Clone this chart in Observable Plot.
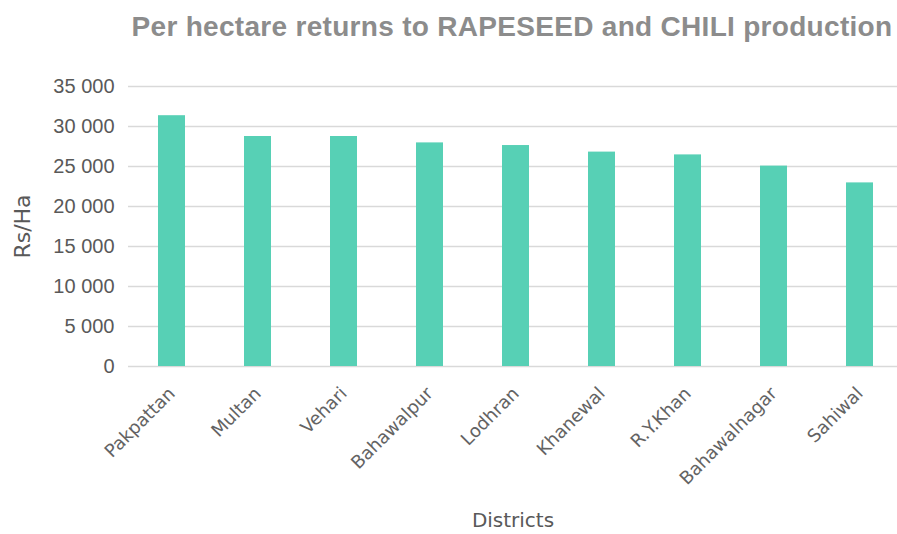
<!DOCTYPE html>
<html>
<head>
<meta charset="utf-8">
<script src="https://cdn.jsdelivr.net/npm/d3@7"></script>
<script src="https://cdn.jsdelivr.net/npm/@observablehq/plot@0.6"></script>
<style>
  body { margin: 0; background: #fff; }
  #title {
    width: 897px; height: 50px; box-sizing: border-box; padding-left: 127px;
    text-align: center; line-height: 54px; white-space: nowrap;
    font-family: "Liberation Sans", Arial, sans-serif; font-weight: bold;
    font-size: 28px; letter-spacing: 0.3px; color: #8c8c8c;
  }
  #chart svg { display: block; }
</style>
</head>
<body>
<div id="title">Per hectare returns to RAPESEED and CHILI production</div>
<div id="chart"></div>
<script>
const districts = ["Pakpattan", "Multan", "Vehari", "Bahawalpur", "Lodhran", "Khanewal", "R.Y.Khan", "Bahawalnagar", "Sahiwal"];
const returns = [31350, 28750, 28750, 27950, 27620, 26800, 26450, 25050, 22950];
const yTicks = [0, 5000, 10000, 15000, 20000, 25000, 30000, 35000];
const yLabel = "Rs/Ha";
const xLabel = "Districts";

const data = districts.map((d, i) => ({district: d, value: returns[i]}));
const fmt = d3.formatLocale({thousands: " ", grouping: [3], decimal: ".", currency: ["", ""]}).format(",");

const gothic = "'DejaVu Sans', sans-serif";
const chart = Plot.plot({
  width: 897,
  height: 484,
  marginTop: 36,
  marginBottom: 168,
  marginLeft: 128,
  marginRight: 0,
  style: {background: "white", overflow: "visible"},
  x: {domain: districts, range: [127.7, 903.5], paddingInner: 0.687, paddingOuter: 0.343},
  y: {domain: [0, 35000]},
  marks: [
    Plot.gridY(yTicks, {stroke: "#d9d9d9", strokeOpacity: 1, strokeWidth: 1.5}),
    Plot.barY(data, {x: "district", y: "value", fill: "#57d0b5"}),
    Plot.axisY(yTicks, {tickSize: 0, tickPadding: 14, tickFormat: fmt, fontSize: 20, fill: "#595959",
      fontFamily: "'Liberation Sans', Arial, sans-serif", label: null}),
    Plot.axisX({tickRotate: -45, tickSize: 0, tickPadding: 24, fontSize: 18, fill: "#636363",
      fontFamily: gothic, label: null}),
    Plot.text([yLabel], {frameAnchor: "left", textAnchor: "middle", lineAnchor: "middle", dx: -106, rotate: -90,
      fontSize: 22, fill: "#595959", fontFamily: gothic}),
    Plot.text([xLabel], {frameAnchor: "bottom", textAnchor: "middle", lineAnchor: "middle", dy: 154,
      fontSize: 20, fill: "#595959", fontFamily: gothic})
  ]
});
document.getElementById("chart").appendChild(chart);
</script>
</body>
</html>
